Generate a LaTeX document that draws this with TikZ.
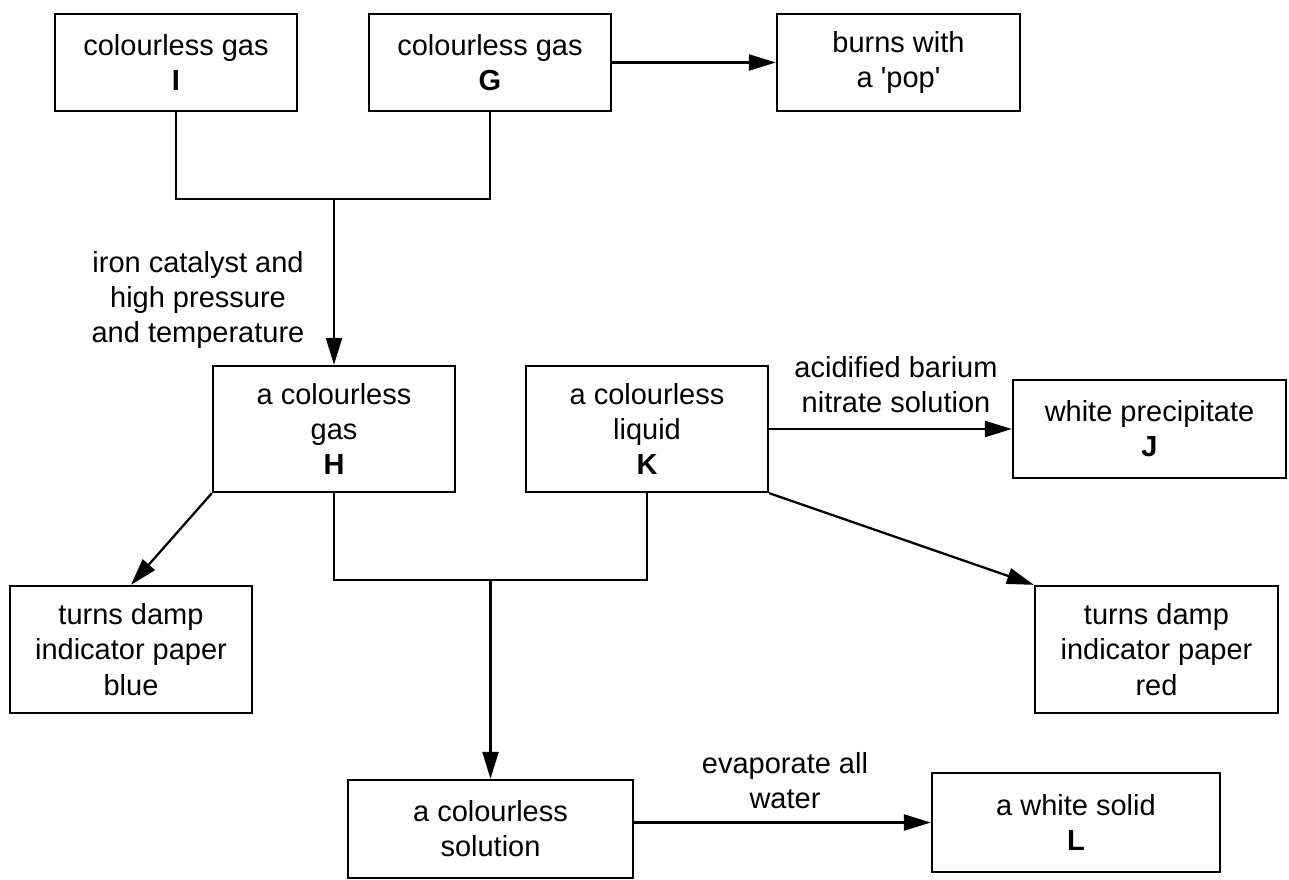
\documentclass[tikz,border=0pt]{standalone}
\usepackage{fontspec}
\setmainfont{Liberation Sans}
\usepackage{tikz}
\usetikzlibrary{arrows.meta,positioning,calc}

\begin{document}
\begin{tikzpicture}[
	box/.style={draw,line width=1.3pt,minimum width=4.84cm,minimum height=1.94cm,align=center,inner sep=0pt,font=\fontsize{16.5}{20}\selectfont},
	lbl/.style={align=center,inner sep=0pt,font=\fontsize{16.5}{20}\selectfont},
	link/.style={line width=1.3pt},
	arr/.style={line width=1.3pt,-{Triangle[length=0.54cm,width=0.32cm]}}
	]
	\useasboundingbox (0,0) rectangle (25.78,-17.58);
	% top row
	\node[box] (gI) at (3.52,-1.25) {colourless gas\\\textbf{I}};
	\node[box] (gG) at (9.80,-1.25) {colourless gas\\\textbf{G}};
	\node[box,minimum width=4.86cm] (pop) at (17.97,-1.25) {burns with\\a \textquotesingle pop\textquotesingle};
	% middle row
	\node[box,minimum height=2.52cm] (gH) at (6.68,-8.58) {a colourless\\gas\\\textbf{H}};
	\node[box,minimum height=2.52cm] (lK) at (12.94,-8.58) {a colourless\\liquid\\\textbf{K}};
	\node[box,minimum width=5.46cm,minimum height=1.96cm] (pJ) at (22.99,-8.58) {white precipitate\\\textbf{J}};
	\node[box,minimum height=2.54cm] (blue) at (2.62,-12.99) {turns damp\\indicator paper\\blue};
	\node[box,minimum width=4.86cm,minimum height=2.54cm] (red) at (23.13,-12.99) {turns damp\\indicator paper\\red};
	% bottom row
	\node[box,minimum width=5.70cm,minimum height=1.96cm] (soln) at (9.81,-16.58) {a colourless\\solution};
	\node[box,minimum width=5.76cm,minimum height=1.98cm] (sL) at (21.52,-16.45) {a white solid\\\textbf{L}};
	% junctions
	\coordinate (j1) at (6.68,-3.98);
	\coordinate (j2) at (9.81,-11.60);
	% connectors
	\draw[link] (gI.south) |- (j1) -| (gG.south);
	\draw[arr] (j1) -- (gH.north);
	\draw[arr] (gG.east) -- (pop.west);
	\draw[link] (gH.south) |- (j2) -| (lK.south);
	\draw[arr] (j2) -- (soln.north);
	\draw[arr] (gH.south west) -- (blue.north);
	\draw[arr] (lK.east) -- (pJ.west);
	\draw[arr] (lK.south east) -- (red.north west);
	\draw[arr] (soln.east |- sL.west) -- (sL.west);
	% conditions
	\node[lbl] (cat) at (3.96,-6.0) {iron catalyst and\\high pressure\\and temperature};
	\node[lbl] (ba) at (17.92,-7.70) {acidified barium\\nitrate solution};
	\node[lbl] (evap) at (15.70,-15.62) {evaporate all\\water};
\end{tikzpicture}
\end{document}
